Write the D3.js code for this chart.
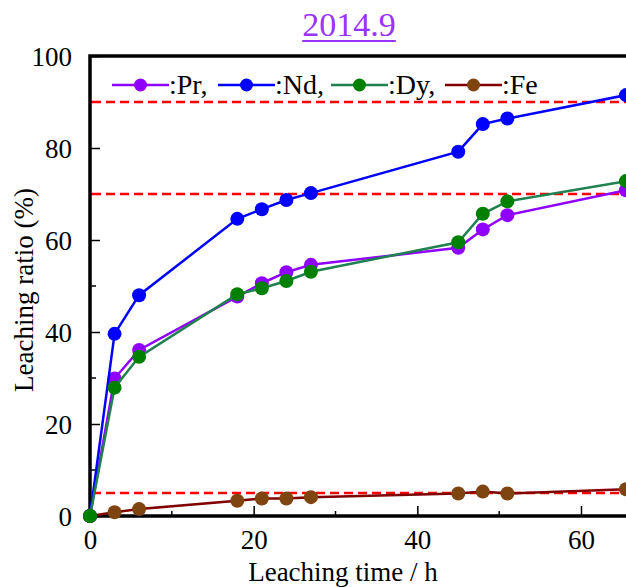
<!DOCTYPE html>
<html>
<head>
<meta charset="utf-8">
<script src="https://cdn.jsdelivr.net/npm/d3@7"></script>
<style>
  html, body { margin: 0; padding: 0; background: #fff; }
  svg { display: block; }
  svg text { font-family: "Liberation Serif", "Times New Roman", Times, serif; }
  .axis path, .axis line { stroke: #000; }
  .axis text { font-size: 27px; fill: #000; }
</style>
</head>
<body>
<svg id="chart" width="626" height="587" viewBox="0 0 626 587"></svg>
<script>
const timeH = [0, 3, 6, 18, 21, 24, 27, 45, 48, 51, 65.5];
const prRatio = [0, 29.9, 36.1, 47.7, 50.6, 53.0, 54.6, 58.3, 62.3, 65.4, 70.8];
const ndRatio = [0, 39.6, 48.0, 64.6, 66.7, 68.7, 70.2, 79.2, 85.2, 86.4, 91.5];
const dyRatio = [0, 27.9, 34.6, 48.2, 49.5, 51.1, 53.1, 59.5, 65.7, 68.4, 72.8];
const feRatio = [0, 0.8, 1.5, 3.3, 3.8, 3.8, 4.1, 4.9, 5.3, 4.9, 5.8];
const seriesNames = [":Pr,", ":Nd,", ":Dy,", ":Fe"];
const refLevels = [90, 70, 5];
const xTickValues = [0, 20, 40, 60];
const xMinorTicks = [10, 30, 50];
const yTickValues = [0, 20, 40, 60, 80, 100];
const yMinorTicks = [10, 30, 50, 70, 90];
const titleText = "2014.9";

const SERIF = '"Liberation Serif", "Times New Roman", Times, serif';
const STYLES = [
  { line: "#8f00ff", dot: "#8f00ff" },
  { line: "#0000ff", dot: "#0000ff" },
  { line: "#1f8050", dot: "#008000" },
  { line: "#800000", dot: "#7f4510" }
];
// Dy sits on top of Fe at the origin in the source figure
const DRAW_ORDER = [0, 1, 3, 2];

const svg = d3.select("#chart");
const margin = { top: 56, left: 90, bottom: 516 };
const x = d3.scaleLinear().domain([0, 60]).range([margin.left, 581]);
const y = d3.scaleLinear().domain([0, 100]).range([margin.bottom, margin.top]);
const rightEdge = x(75);

const seriesList = [prRatio, ndRatio, dyRatio, feRatio].map((vals, i) => ({
  name: seriesNames[i],
  points: timeH.map((t, j) => ({ x: t, y: vals[j] }))
}));

// title
const title = svg.append("text")
  .attr("x", 349)
  .attr("y", 36)
  .attr("text-anchor", "middle")
  .attr("font-family", SERIF)
  .attr("font-size", 34)
  .attr("fill", "#9933ff")
  .text(titleText);
const tw = title.node().getComputedTextLength();
svg.append("line")
  .attr("x1", 349 - tw / 2).attr("x2", 349 + tw / 2)
  .attr("y1", 41).attr("y2", 41)
  .attr("stroke", "#9933ff").attr("stroke-width", 2);

// minor ticks
svg.append("g")
  .selectAll("line")
  .data(xMinorTicks)
  .join("line")
  .attr("x1", d => x(d)).attr("x2", d => x(d))
  .attr("y1", margin.bottom).attr("y2", margin.bottom - 5)
  .attr("stroke", "#000").attr("stroke-width", 1.5);

svg.append("g")
  .selectAll("line")
  .data(yMinorTicks)
  .join("line")
  .attr("x1", margin.left).attr("x2", margin.left + 6)
  .attr("y1", d => y(d)).attr("y2", d => y(d))
  .attr("stroke", "#000").attr("stroke-width", 1.5);

// axes
const xAxis = svg.append("g")
  .attr("class", "axis")
  .attr("transform", `translate(0, ${margin.bottom})`)
  .call(d3.axisBottom(x).tickValues(xTickValues).tickSizeInner(-10).tickSizeOuter(0).tickPadding(14));
xAxis.select(".domain").remove();
xAxis.selectAll(".tick line").attr("stroke-width", 1.5);
xAxis.selectAll(".tick text").attr("font-family", SERIF);

const yAxis = svg.append("g")
  .attr("class", "axis")
  .attr("transform", `translate(${margin.left}, 0)`)
  .call(d3.axisLeft(y).tickValues(yTickValues).tickSizeInner(-10).tickSizeOuter(0).tickPadding(18));
yAxis.select(".domain").remove();
yAxis.selectAll(".tick line").attr("stroke-width", 1.5);
yAxis.selectAll(".tick text").attr("dy", "0.34em").attr("font-family", SERIF);

// frame
svg.append("path")
  .attr("d", `M${rightEdge},${margin.top}H${margin.left}V${margin.bottom}H${rightEdge}`)
  .attr("fill", "none")
  .attr("stroke", "#000")
  .attr("stroke-width", 3.5);

// reference dashed lines
svg.append("g")
  .selectAll("line")
  .data(refLevels)
  .join("line")
  .attr("x1", margin.left + 2).attr("x2", rightEdge)
  .attr("y1", d => y(d)).attr("y2", d => y(d))
  .attr("stroke", "#ff0000")
  .attr("stroke-width", 2.5)
  .attr("stroke-dasharray", "9,5");

// series
const line = d3.line().x(p => x(p.x)).y(p => y(p.y));
DRAW_ORDER.forEach(i => {
  const series = seriesList[i];
  const g = svg.append("g");
  g.append("path")
    .attr("d", line(series.points))
    .attr("fill", "none")
    .attr("stroke", STYLES[i].line)
    .attr("stroke-width", 2.5);
  g.selectAll("circle")
    .data(series.points)
    .join("circle")
    .attr("cx", p => x(p.x))
    .attr("cy", p => y(p.y))
    .attr("r", 7)
    .attr("fill", STYLES[i].dot);
});

// legend
const legendX = [112, 218, 331, 445];
const legend = svg.append("g");
seriesList.forEach((series, i) => {
  const lx = legendX[i];
  const ly = 85;
  legend.append("line")
    .attr("x1", lx).attr("x2", lx + 57)
    .attr("y1", ly).attr("y2", ly)
    .attr("stroke", STYLES[i].line).attr("stroke-width", 2.5);
  legend.append("circle")
    .attr("cx", lx + 28.5).attr("cy", ly).attr("r", 6.5)
    .attr("fill", STYLES[i].dot);
  legend.append("text")
    .attr("x", lx + 57).attr("y", ly + 9)
    .attr("font-family", SERIF)
    .attr("font-size", 28)
    .text(series.name);
});

// axis labels
svg.append("text")
  .attr("x", 343).attr("y", 581)
  .attr("text-anchor", "middle")
  .attr("font-family", SERIF)
  .attr("font-size", 27)
  .text("Leaching time / h");

svg.append("text")
  .attr("transform", "translate(33, 290) rotate(-90)")
  .attr("text-anchor", "middle")
  .attr("font-family", SERIF)
  .attr("font-size", 27)
  .text("Leaching ratio (%)");
</script>
</body>
</html>
